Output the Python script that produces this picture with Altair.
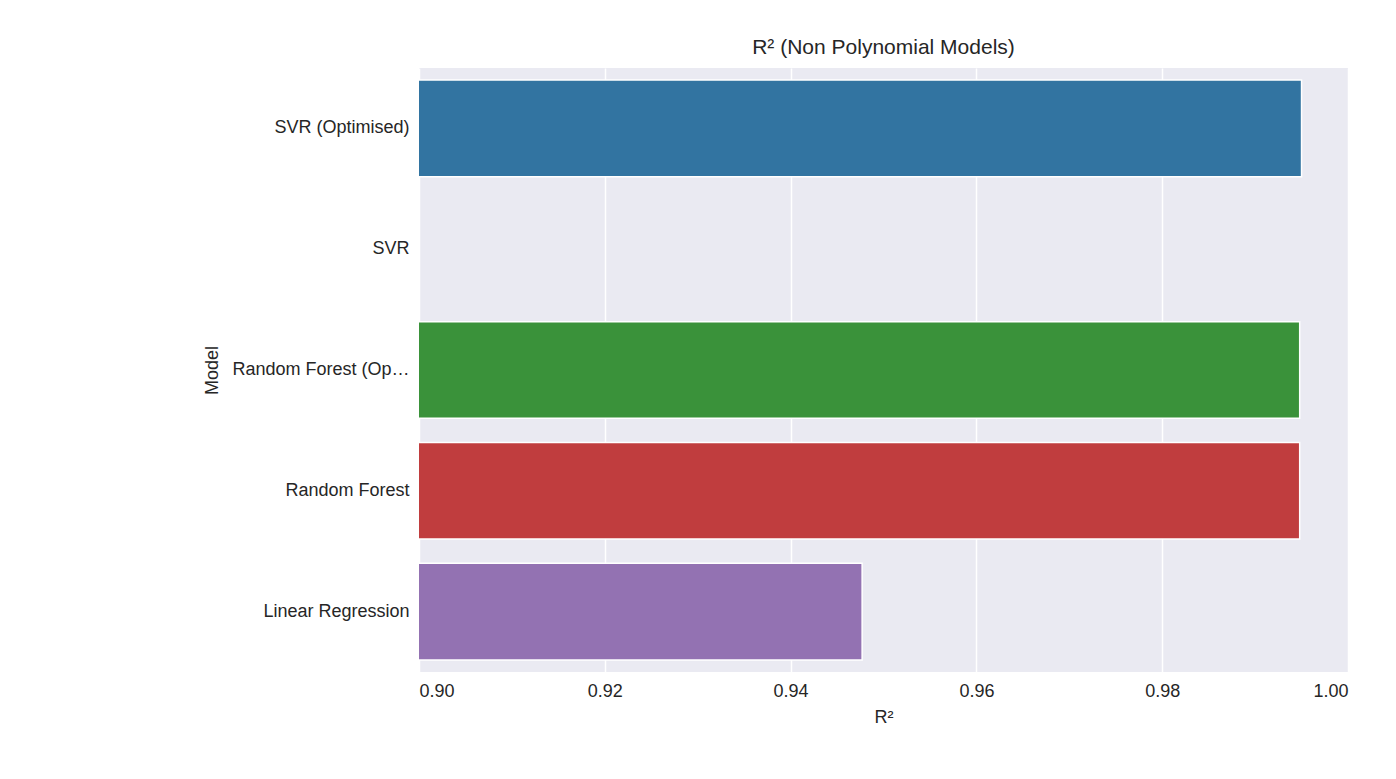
import altair as alt
import pandas as pd

models = ["SVR (Optimised)", "SVR", "Random Forest (Optimised)", "Random Forest", "Linear Regression"]
r2 = [0.9950, 0.85, 0.9948, 0.9948, 0.9477]
colors = ["#3274a1", "#e1812c", "#3a923a", "#c03d3e", "#9372b2"]

df = pd.DataFrame({"Model": models, "R2": r2})

chart = alt.Chart(df).mark_bar(clip=True, stroke="white", strokeWidth=1.5).encode(
    y=alt.Y("Model:N", sort=models, title="Model",
            scale=alt.Scale(paddingInner=0.2, paddingOuter=0.1)),
    x=alt.X("R2:Q", title="R²", scale=alt.Scale(domain=[0.9, 1.0], zero=False, nice=False),
            axis=alt.Axis(values=[0.9, 0.92, 0.94, 0.96, 0.98, 1.0], format=".2f")),
    color=alt.Color("Model:N", scale=alt.Scale(domain=models, range=colors), legend=None),
).properties(
    width=929, height=604,
    title=alt.TitleParams("R² (Non Polynomial Models)", fontSize=21, fontWeight="normal",
                          font="Liberation Sans", color="#262626", offset=10),
    autosize=alt.AutoSizeParams(type="none"),
    padding={"left": 411, "top": 60, "right": 40, "bottom": 90},
).configure_view(fill="#eaeaf2", stroke=None).configure_axis(
    grid=True, gridColor="white", gridWidth=1.5, domain=False, ticks=False,
    labelFont="Liberation Sans", titleFont="Liberation Sans", labelFontSize=18, titleFontSize=18,
    labelColor="#262626", titleColor="#262626", titleFontWeight="normal", labelPadding=10,
).configure_axisY(grid=False, titlePadding=10).configure_axisX(titlePadding=8)

chart.save("out.html", embed_options={"renderer": "svg", "actions": False})
